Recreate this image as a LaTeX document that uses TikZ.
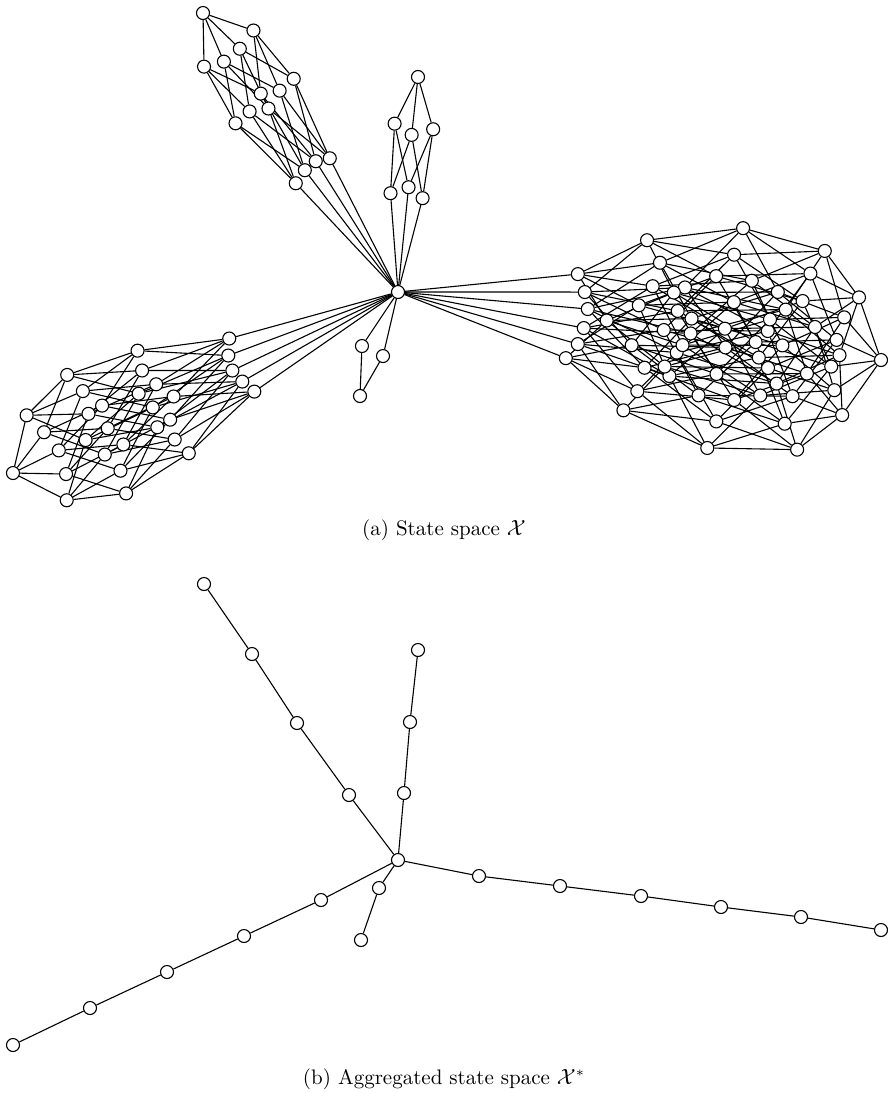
\documentclass[tikz,border=0pt]{standalone}
\pgfdeclarelayer{bg}
\pgfsetlayers{bg,main}
\tikzset{
  vtx/.style={circle,draw,fill=white,inner sep=0pt,minimum size=6.5pt,line width=0.55pt},
  edge/.style={line width=0.55pt},
  captext/.style={font=\fontsize{10.5}{12}\selectfont,anchor=base,inner sep=0pt}
}
% place the vertices of a hypercube whose vertex 0 is the hub (\HX,\HY)
\newcommand\placecube[2]{%
  \pgfmathsetmacro\LL{veclen(\FX-\HX,\FY-\HY)}%
  \pgfmathsetmacro\AX{(\FX-\HX)/\LL}%
  \pgfmathsetmacro\AY{(\FY-\HY)/\LL}%
  \pgfmathtruncatemacro\cubelast{pow(2,#2)-1}%
  \foreach \n in {1,...,\cubelast}{%
    \pgfmathtruncatemacro\kk{bitof(\n,0)+bitof(\n,1)+bitof(\n,2)+bitof(\n,3)+bitof(\n,4)+bitof(\n,5)}%
    \pgfmathsetmacro\SA{bitof(\n,0)*\CA[0]+bitof(\n,1)*\CA[1]+bitof(\n,2)*\CA[2]+bitof(\n,3)*\CA[3]+bitof(\n,4)*\CA[4]+bitof(\n,5)*\CA[5]}%
    \pgfmathsetmacro\SB{bitof(\n,0)*\CB[0]+bitof(\n,1)*\CB[1]+bitof(\n,2)*\CB[2]+bitof(\n,3)*\CB[3]+bitof(\n,4)*\CB[4]+bitof(\n,5)*\CB[5]}%
    \pgfmathsetmacro\along{\CG[\kk]+\CSA[\kk]*\SA}%
    \pgfmathsetmacro\across{\CSB[\kk]*\SB}%
    \pgfmathsetmacro\px{\HX+\along*\AX-\across*\AY}%
    \pgfmathsetmacro\py{\HY+\along*\AY+\across*\AX}%
    \node[vtx] (#1-\n) at (\px,\py) {};
  }%
}
\newcommand\edgecube[2]{%
  \pgfmathtruncatemacro\cubelast{pow(2,#2)-1}%
  \pgfmathtruncatemacro\cubedm{#2-1}%
  \foreach \n in {0,...,\cubelast}{%
    \foreach \i in {0,...,\cubedm}{%
      \pgfmathtruncatemacro\bb{bitof(\n,\i)}%
      \ifnum\bb=0
        \pgfmathtruncatemacro\mm{\n+pow(2,\i)}%
        \draw[edge] (#1-\n) -- (#1-\mm);
      \fi
    }%
  }%
}
\newcommand\chainnodes[2]{%
  \foreach \x/\y [count=\i] in {#2}{\node[vtx] (#1-\i) at (\x,\y) {};}%
}
\newcommand\chainedges[2]{%
  \foreach \i in {1,...,#2}{\pgfmathtruncatemacro\j{\i-1}\draw[edge] (#1-\j) -- (#1-\i);}%
}
\begin{document}
\begin{tikzpicture}[x=0.5pt,y=-0.5pt,
  declare function={bitof(\x,\y)=mod(floor(\x/pow(2,\y)+0.001),2);}]
\useasboundingbox (0,0) rectangle (888,1093);
% ---------------- (a) state space ----------------
\def\HX{398}\def\HY{292}
\node[vtx] (hub) at (398,292) {};
\pgfnodealias{q2-0}{hub}\pgfnodealias{q3-0}{hub}\pgfnodealias{q4-0}{hub}
\pgfnodealias{q5-0}{hub}\pgfnodealias{q6-0}{hub}
% Q2 (bottom)
\def\FX{360}\def\FY{396}
\def\CG{{0,64.2,110.72}}\def\CSA{{0,1,0}}\def\CSB{{0,1,0}}
\def\CA{{-1.1,1.1,0,0,0,0}}\def\CB{{15.3,-7.9,0,0,0,0}}
\placecube{q2}{2}
% Q3 (top middle)
\def\FX{418}\def\FY{77}
\def\CG{{0,99.6,163.5,215.93}}\def\CSA{{0,1,1,0}}\def\CSB{{0,1,1.2,0}}
\def\CA{{-1.9,5.7,-3.9,0,0,0}}\def\CB{{-16.6,0.8,15.8,0,0,0}}
\placecube{q3}{3}
% Q4 (top left)
\def\FX{203}\def\FY{13}
\def\CG{{0,151,233,293,340.39}}\def\CSA{{0,1,1.5,1.3,0}}\def\CSB{{0,1,1.3,1.45,0}}
\def\CA{{-2.3,3.3,2.2,-3.3,0,0}}\def\CB{{20.7,7.5,-6.6,-21.5,0,0}}
\placecube{q4}{4}
% Q5 (bottom left)
\def\FX{13}\def\FY{473}
\def\CG{{0,177.6,264,328.5,382,425.42}}\def\CSA{{0,1,1.6,1.7,1.3,0}}\def\CSB{{0,1,1.3,1.5,1.6,0}}
\def\CA{{-5.1,3,5.7,1.4,-5.2,0}}\def\CB{{29.7,14.7,-0.6,-14.8,-29,0}}
\placecube{q5}{5}
% Q6 (right)
\def\FX{881}\def\FY{360}
\def\CG{{0,183.4,258,330,398,447.4,487.76}}\def\CSA{{0,1,3,4,3,1.2,0}}\def\CSB{{0,1,1.25,1.42,1.46,1.4,0}}
\def\CA{{-7.8,1.6,6.9,5.6,1.9,-8}}\def\CB{{-42.8,-26,-9.6,9.8,26.5,42.1}}
\placecube{q6}{6}
\begin{pgfonlayer}{bg}
\edgecube{q2}{2}
\edgecube{q3}{3}
\edgecube{q4}{4}
\edgecube{q5}{5}
\edgecube{q6}{6}
\end{pgfonlayer}
\node[captext] (capa) at (444,535) {(a) State space $\mathcal{X}$};
% ---------------- (b) aggregated ----------------
\node[vtx] (bhub) at (398,860) {};
\pgfnodealias{b2-0}{bhub}\pgfnodealias{b3-0}{bhub}\pgfnodealias{b4-0}{bhub}
\pgfnodealias{b5-0}{bhub}\pgfnodealias{b6-0}{bhub}
\chainnodes{b4}{349/795,297/723,252/654,204/584}
\chainnodes{b3}{404/793,410/722,418/650}
\chainnodes{b2}{379/888,361/940}
\chainnodes{b5}{321/900,244/936,167/972,90/1008,13/1045}
\chainnodes{b6}{479/876,560/886,641/896,721/907,801/917,881/930}
\begin{pgfonlayer}{bg}
\chainedges{b4}{4}
\chainedges{b3}{3}
\chainedges{b2}{2}
\chainedges{b5}{5}
\chainedges{b6}{6}
\end{pgfonlayer}
\node[captext] (capb) at (444,1084) {(b) Aggregated state space $\mathcal{X}^{*}$};
\end{tikzpicture}
\end{document}
